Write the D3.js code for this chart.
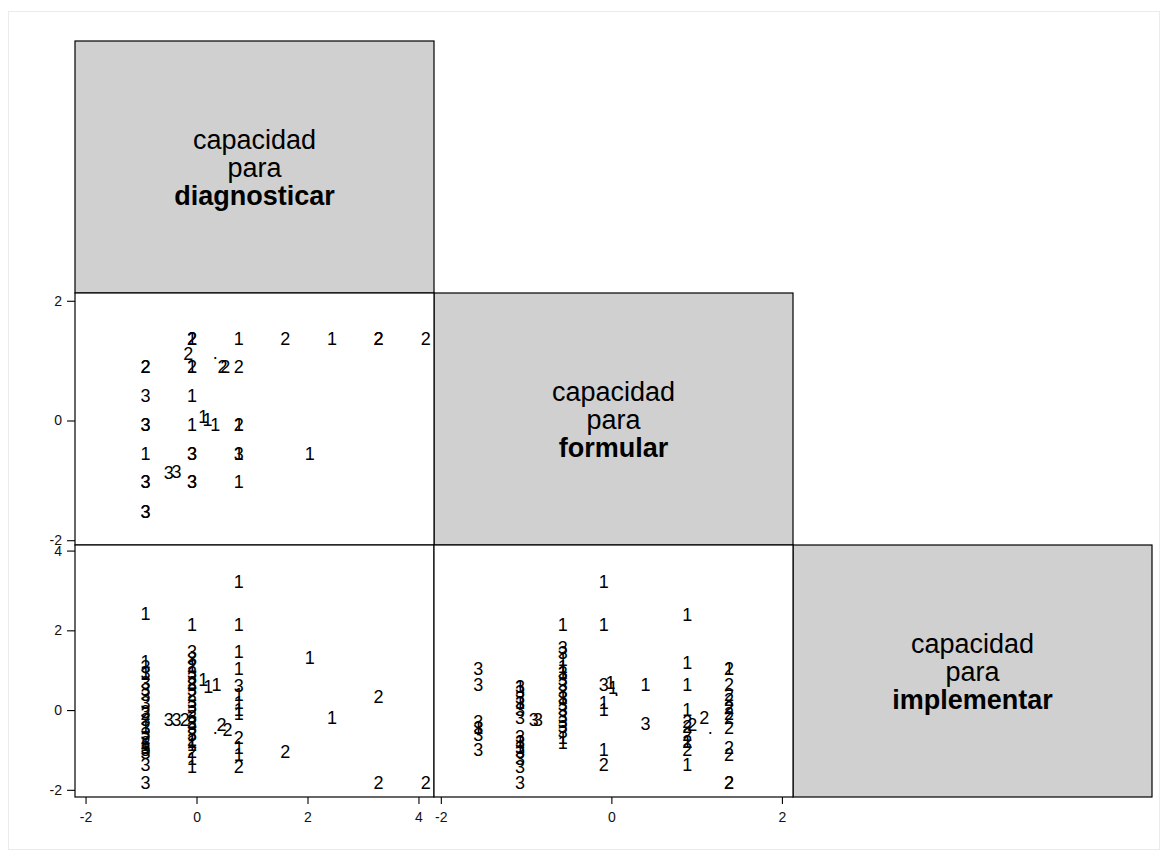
<!DOCTYPE html>
<html>
<head>
<meta charset="utf-8">
<script src="https://cdn.jsdelivr.net/npm/d3@7"></script>
<style>
  html, body { margin: 0; padding: 0; background: #fff; }
  svg { display: block; font-family: "Liberation Sans", Arial, Helvetica, sans-serif; }
</style>
</head>
<body>
<svg id="chart" width="1168" height="857"></svg>
<script>
// ---------------- data ----------------
const variableNames = ["diagnosticar", "formular", "implementar"];
const titlePrefix = ["capacidad", "para"];

const diagnosticarTicks = [-2, 0, 2, 4];
const formularTicks = [-2, 0, 2];
const implementarTicks = [-2, 0, 2, 4];

const diagnosticarDomain = [-2.19, 4.28];
const formularDomain = [-2.08, 2.13];
const implementarDomain = [-2.18, 4.14];

// panel (row 2, col 1): [diagnosticar, formular, group label]
const formularVsDiagnosticar = [
  [-0.08, 1.37, "2"], [-0.08, 1.37, "2"], [-0.08, 1.37, "1"], [0.76, 1.37, "1"],
  [1.60, 1.37, "2"], [2.44, 1.37, "1"], [3.28, 1.37, "2"], [3.28, 1.37, "2"], [4.13, 1.37, "2"],
  [-0.15, 1.11, "2"], [0.34, 1.13, "."],
  [-0.92, 0.90, "2"], [-0.92, 0.90, "2"], [-0.08, 0.90, "2"], [-0.08, 0.90, "1"],
  [0.47, 0.90, "2"], [0.52, 0.90, "2"], [0.76, 0.90, "2"],
  [-0.92, 0.41, "3"], [-0.08, 0.41, "1"],
  [-0.92, -0.07, "3"], [-0.92, -0.07, "3"], [-0.08, -0.07, "1"], [0.12, 0.06, "1"],
  [0.20, 0.01, "1"], [0.34, -0.07, "1"], [0.76, -0.07, "2"], [0.76, -0.07, "1"],
  [-0.92, -0.55, "1"], [-0.08, -0.55, "3"], [-0.08, -0.55, "3"], [0.76, -0.55, "3"],
  [0.76, -0.55, "1"], [2.04, -0.55, "1"],
  [-0.92, -1.03, "3"], [-0.92, -1.03, "3"], [-0.50, -0.88, "3"], [-0.36, -0.85, "3"],
  [-0.08, -1.03, "3"], [-0.08, -1.03, "3"], [0.76, -1.03, "1"],
  [-0.92, -1.52, "3"], [-0.92, -1.52, "3"]
];

// panel (row 3, col 1): [diagnosticar, implementar, group label]
const implementarVsDiagnosticar = [
  [0.76, 3.23, "1"], [-0.92, 2.41, "1"], [-0.08, 2.14, "1"], [0.76, 2.14, "1"],
  [-0.08, 1.47, "3"], [-0.08, 1.28, "3"], [-0.08, 1.12, "2"], [-0.08, 1.10, "1"],
  [-0.08, 0.93, "3"], [-0.08, 0.80, "3"], [-0.08, 0.69, "2"], [-0.08, 0.64, "3"],
  [-0.08, 0.51, "3"], [-0.08, 0.38, "2"], [-0.08, 0.22, "3"], [-0.08, 0.09, "3"],
  [-0.08, -0.04, "2"], [-0.08, -0.16, "3"], [-0.08, -0.29, "2"], [-0.08, -0.33, "3"],
  [-0.08, -0.45, "3"], [-0.08, -0.62, "3"], [-0.08, -0.75, "2"], [-0.08, -0.79, "1"],
  [-0.08, -0.87, "1"], [-0.08, -1.04, "2"], [-0.08, -1.21, "1"], [-0.08, -1.42, "1"],
  [-0.92, 1.22, "1"], [-0.92, 1.10, "3"], [-0.92, 0.93, "3"], [-0.92, 0.90, "1"],
  [-0.92, 0.68, "3"], [-0.92, 0.51, "3"], [-0.92, 0.38, "3"], [-0.92, 0.18, "3"],
  [-0.92, -0.04, "3"], [-0.92, -0.08, "2"], [-0.92, -0.24, "3"], [-0.92, -0.41, "1"],
  [-0.92, -0.45, "3"], [-0.92, -0.58, "3"], [-0.92, -0.70, "2"], [-0.92, -0.83, "2"],
  [-0.92, -0.87, "1"], [-0.92, -0.95, "3"], [-0.92, -1.00, "3"], [-0.92, -1.08, "3"],
  [-0.92, -1.37, "3"], [-0.92, -1.83, "3"],
  [-0.50, -0.24, "3"], [-0.36, -0.24, "3"], [-0.21, -0.24, "2"],
  [0.12, 0.76, "1"], [0.21, 0.59, "1"], [0.36, 0.64, "1"],
  [0.34, -0.45, "."], [0.45, -0.37, "2"], [0.56, -0.49, "2"],
  [0.76, 1.46, "1"], [0.76, 1.05, "1"], [0.76, 0.62, "3"], [0.76, 0.38, "1"],
  [0.76, 0.18, "1"], [0.76, 0.01, "1"], [0.76, -0.08, "1"], [0.76, -0.70, "2"],
  [0.76, -0.95, "1"], [0.76, -1.12, "1"], [0.76, -1.42, "2"],
  [2.04, 1.31, "1"], [3.28, 0.34, "2"], [2.44, -0.20, "1"], [1.60, -1.04, "2"],
  [3.28, -1.83, "2"], [4.13, -1.83, "2"]
];

// panel (row 3, col 2): [formular, implementar, group label]
const implementarVsFormular = [
  [-1.56, 1.05, "3"], [-1.56, 0.64, "3"], [-1.56, -0.29, "3"], [-1.56, -0.45, "3"],
  [-1.56, -0.45, "1"], [-1.56, -0.62, "3"], [-1.56, -1.00, "3"],
  [-1.07, 0.59, "3"], [-1.07, 0.59, "1"], [-1.07, 0.47, "3"], [-1.07, 0.30, "3"],
  [-1.07, 0.18, "3"], [-1.07, 0.18, "1"], [-1.07, 0.01, "3"], [-1.07, -0.20, "3"],
  [-1.07, -0.66, "3"], [-1.07, -0.79, "3"], [-1.07, -0.79, "1"], [-1.07, -0.91, "1"],
  [-1.07, -0.95, "3"], [-1.07, -1.04, "3"], [-1.07, -1.21, "3"], [-1.07, -1.42, "3"],
  [-1.07, -1.83, "3"],
  [-0.91, -0.24, "3"], [-0.86, -0.24, "3"],
  [-0.57, 2.14, "1"], [-0.57, 1.56, "3"], [-0.57, 1.43, "3"], [-0.57, 1.26, "1"],
  [-0.57, 1.10, "1"], [-0.57, 0.93, "3"], [-0.57, 0.93, "1"], [-0.57, 0.76, "3"],
  [-0.57, 0.64, "3"], [-0.57, 0.47, "3"], [-0.57, 0.30, "1"], [-0.57, 0.30, "3"],
  [-0.57, 0.13, "3"], [-0.57, 0.01, "3"], [-0.57, -0.16, "3"], [-0.57, -0.29, "3"],
  [-0.57, -0.41, "3"], [-0.57, -0.54, "3"], [-0.57, -0.70, "1"], [-0.57, -0.83, "1"],
  [-0.09, 3.23, "1"], [-0.09, 2.14, "1"], [-0.09, 0.64, "3"], [-0.01, 0.68, "1"],
  [0.02, 0.55, "1"], [0.06, 0.52, "."], [-0.09, 0.18, "1"], [-0.09, 0.01, "1"],
  [-0.09, -1.00, "1"], [-0.09, -1.37, "2"],
  [0.40, 0.64, "1"], [0.40, -0.33, "3"],
  [0.89, 2.39, "1"], [0.89, 1.18, "1"], [0.89, 0.64, "1"], [0.89, 0.01, "1"],
  [0.89, -0.29, "2"], [0.89, -0.41, "2"], [0.95, -0.37, "2"], [0.89, -0.62, "2"],
  [0.89, -0.79, "2"], [0.89, -0.79, "1"], [0.89, -1.00, "2"], [0.89, -1.37, "1"],
  [1.09, -0.20, "2"], [1.16, -0.44, "."],
  [1.38, 1.05, "2"], [1.38, 1.05, "1"], [1.38, 0.64, "2"], [1.38, 0.38, "2"],
  [1.38, 0.26, "2"], [1.38, 0.05, "2"], [1.38, 0.05, "2"], [1.38, -0.08, "2"],
  [1.38, -0.20, "2"], [1.38, -0.45, "2"], [1.38, -0.95, "2"], [1.38, -1.12, "2"],
  [1.38, -1.81, "2"], [1.38, -1.81, "2"]
];

// ---------------- layout ----------------
const svg = d3.select("#chart");
const gridLeft = 75, gridTop = 41, cellW = 359, cellH = 252;
const colX = i => gridLeft + i * cellW;
const rowY = i => gridTop + i * cellH;

// outer light frame
svg.append("rect").attr("x", 8.5).attr("y", 11.5).attr("width", 1151).attr("height", 838)
  .attr("fill", "#fff").attr("stroke", "#ebebeb").attr("stroke-width", 1);

// scales
const xScales = [
  d3.scaleLinear().domain(diagnosticarDomain).range([colX(0), colX(1)]),
  d3.scaleLinear().domain(formularDomain).range([colX(1), colX(2)])
];
const yScales = [
  null,
  d3.scaleLinear().domain(formularDomain).range([rowY(2), rowY(1)]),
  d3.scaleLinear().domain(implementarDomain).range([rowY(3), rowY(2)])
];

// diagonal boxes
variableNames.forEach((name, i) => {
  const g = svg.append("g");
  g.append("rect").attr("x", colX(i)).attr("y", rowY(i)).attr("width", cellW).attr("height", cellH)
    .attr("fill", "#d0d0d0").attr("stroke", "#000").attr("stroke-width", 1.2);
  const cx = colX(i) + cellW / 2, cy = rowY(i) + cellH / 2 + 1;
  const lines = [titlePrefix[0], titlePrefix[1], name];
  const lh = 28;
  lines.forEach((t, k) => {
    g.append("text").attr("x", cx).attr("y", cy + (k - 1) * lh).attr("dy", "0.35em")
      .attr("text-anchor", "middle").attr("font-size", 27)
      .attr("font-weight", k === 2 ? "bold" : "normal").attr("fill", "#000").text(t);
  });
});

// scatter panels
const panels = [
  { row: 1, col: 0, data: formularVsDiagnosticar },
  { row: 2, col: 0, data: implementarVsDiagnosticar },
  { row: 2, col: 1, data: implementarVsFormular }
];
panels.forEach(p => {
  const g = svg.append("g");
  g.append("rect").attr("x", colX(p.col)).attr("y", rowY(p.row)).attr("width", cellW).attr("height", cellH)
    .attr("fill", "#fff").attr("stroke", "none");
  const xs = xScales[p.col], ys = yScales[p.row];
  g.selectAll("text").data(p.data).join("text")
    .attr("x", d => xs(d[0])).attr("y", d => ys(d[1])).attr("dy", "0.35em")
    .attr("text-anchor", "middle").attr("font-size", 18).attr("fill", "#000")
    .text(d => d[2]);
  g.append("rect").attr("x", colX(p.col)).attr("y", rowY(p.row)).attr("width", cellW).attr("height", cellH)
    .attr("fill", "none").attr("stroke", "#000").attr("stroke-width", 1.2);
});

// axes
function styleAxis(sel) {
  sel.attr("font-size", 14).attr("font-family", "'Liberation Sans', Arial, sans-serif");
  sel.select(".domain").remove();
  sel.selectAll(".tick line").attr("stroke", "#000").attr("stroke-width", 1.1);
  sel.selectAll(".tick text").attr("fill", "#111").attr("font-size", 14);
}
svg.append("g").attr("transform", `translate(${gridLeft},0)`)
  .call(d3.axisLeft(yScales[1]).tickValues(formularTicks).tickSize(8).tickPadding(5).tickFormat(d3.format("d")))
  .call(styleAxis);
svg.append("g").attr("transform", `translate(${gridLeft},0)`)
  .call(d3.axisLeft(yScales[2]).tickValues(implementarTicks).tickSize(8).tickPadding(5).tickFormat(d3.format("d")))
  .call(styleAxis);
svg.append("g").attr("transform", `translate(0,${rowY(3)})`)
  .call(d3.axisBottom(xScales[0]).tickValues(diagnosticarTicks).tickSize(7).tickPadding(8).tickFormat(d3.format("d")))
  .call(styleAxis);
svg.append("g").attr("transform", `translate(0,${rowY(3)})`)
  .call(d3.axisBottom(xScales[1]).tickValues(formularTicks).tickSize(7).tickPadding(8).tickFormat(d3.format("d")))
  .call(styleAxis);
// minus sign as plain hyphen like the original
svg.selectAll(".tick text").text(function() { return d3.select(this).text().replace("−", "-"); });
</script>
</body>
</html>
